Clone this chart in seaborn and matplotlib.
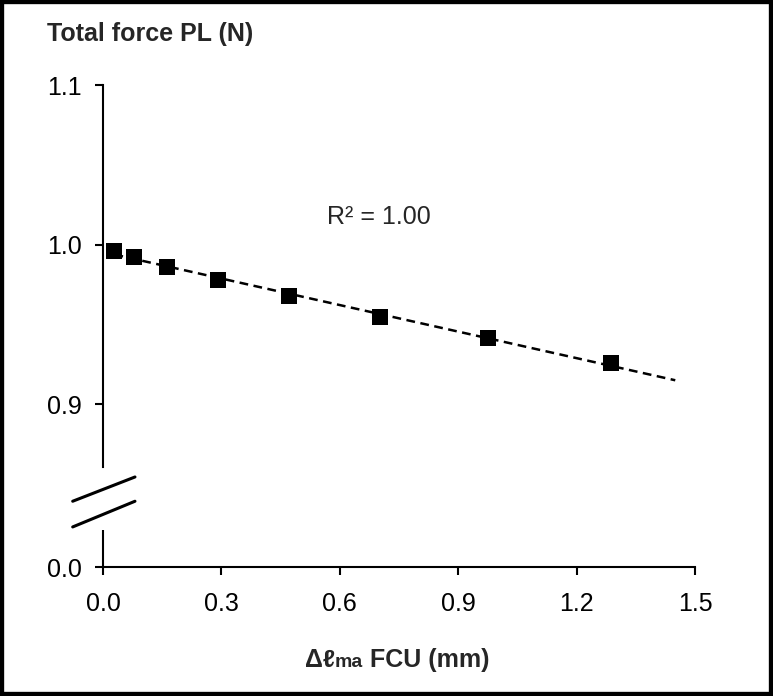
import numpy as np
import pandas as pd
import matplotlib

matplotlib.use('Agg')
import matplotlib.pyplot as plt
import seaborn as sns
from matplotlib.patches import Rectangle

# data
delta_l = [0.029, 0.079, 0.163, 0.291, 0.472, 0.702, 0.975, 1.287]
force = [0.9958, 0.9920, 0.9862, 0.9781, 0.9675, 0.9546, 0.9414, 0.9258]
trend_end = 1.45

y_ticks = [0.798, 0.9, 1.0, 1.1]
y_labels = ['0.0', '0.9', '1.0', '1.1']
x_ticks = [0.0, 0.3, 0.6, 0.9, 1.2, 1.5]
x_labels = ['0.0', '0.3', '0.6', '0.9', '1.2', '1.5']
r2_text = 'R² = 1.00'

df = pd.DataFrame({'x': delta_l, 'y': force})

# linear trend line
slope, intercept = np.polyfit(df['x'], df['y'], 1)
trend = pd.DataFrame({'x': [df['x'].iloc[0], trend_end]})
trend['y'] = slope * trend['x'] + intercept

sns.set_style('ticks')
plt.rcParams['font.family'] = ['Liberation Sans', 'DejaVu Sans']

W, H = 773, 696
fig = plt.figure(figsize=(W / 100, H / 100), dpi=100)
ax = fig.add_axes([103 / W, 1 - 567 / H, (695 - 103) / W, (567 - 85) / H])

sns.lineplot(data=trend, x='x', y='y', ax=ax, color='black', lw=1.8,
             linestyle=(0, (3.5, 2.2)), zorder=2)
sns.scatterplot(data=df, x='x', y='y', ax=ax, marker='s', s=125,
                color='black', edgecolor='black', linewidth=0, zorder=3)

ax.set_xlim(0, 1.5)
ax.set_ylim(y_ticks[0], 1.1)
ax.set_xticks(x_ticks)
ax.set_xticklabels(x_labels)
ax.set_yticks(y_ticks)
ax.set_yticklabels(y_labels)
ax.set_xlabel('')
ax.set_ylabel('')
ax.tick_params(axis='both', labelsize=18, length=6, width=1.5, color='black',
               labelcolor='black')
ax.tick_params(axis='y', pad=9)
ax.tick_params(axis='x', pad=12)

for side in ['top', 'right']:
    ax.spines[side].set_visible(False)
ax.spines['bottom'].set_linewidth(1.5)
ax.spines['bottom'].set_color('black')
ax.spines['left'].set_linewidth(1.5)
ax.spines['left'].set_color('black')
# broken y axis
ax.spines['left'].set_bounds(0.8607, 1.1)
ax.plot([0, 0], [y_ticks[0], 0.821], color='black', lw=1.5, clip_on=False,
        solid_capstyle='butt')
ax.plot([-0.0768, 0.081], [0.8392, 0.8544], color='black', lw=2.2, clip_on=False)
ax.plot([-0.0768, 0.081], [0.8231, 0.8392], color='black', lw=2.2, clip_on=False)

ax.text(0.698, 1.0174, r2_text, fontsize=18, ha='center', va='center')

# axis titles
fig.text(47 / W, 1 - 41 / H, 'Total force PL (N)', fontsize=18,
         fontweight='bold', ha='left', va='baseline')

renderer = fig.canvas.get_renderer()
parts = [('Δℓ', 18), ('ma', 14), (' FCU (mm)', 18)]
texts = []
for s, fs in parts:
    t = fig.text(0, 1 - 667 / H, s, fontsize=fs, fontweight='bold',
                 ha='left', va='baseline')
    texts.append(t)
widths = [t.get_window_extent(renderer).width for t in texts]
x0 = 397 - sum(widths) / 2
for t, w in zip(texts, widths):
    t.set_x(x0 / W)
    x0 += w

# outer frame
fig.patches.append(Rectangle((0, 0), 1, 1, transform=fig.transFigure,
                             fill=False, lw=6, edgecolor='black'))

fig.savefig('out.png', dpi=100)
